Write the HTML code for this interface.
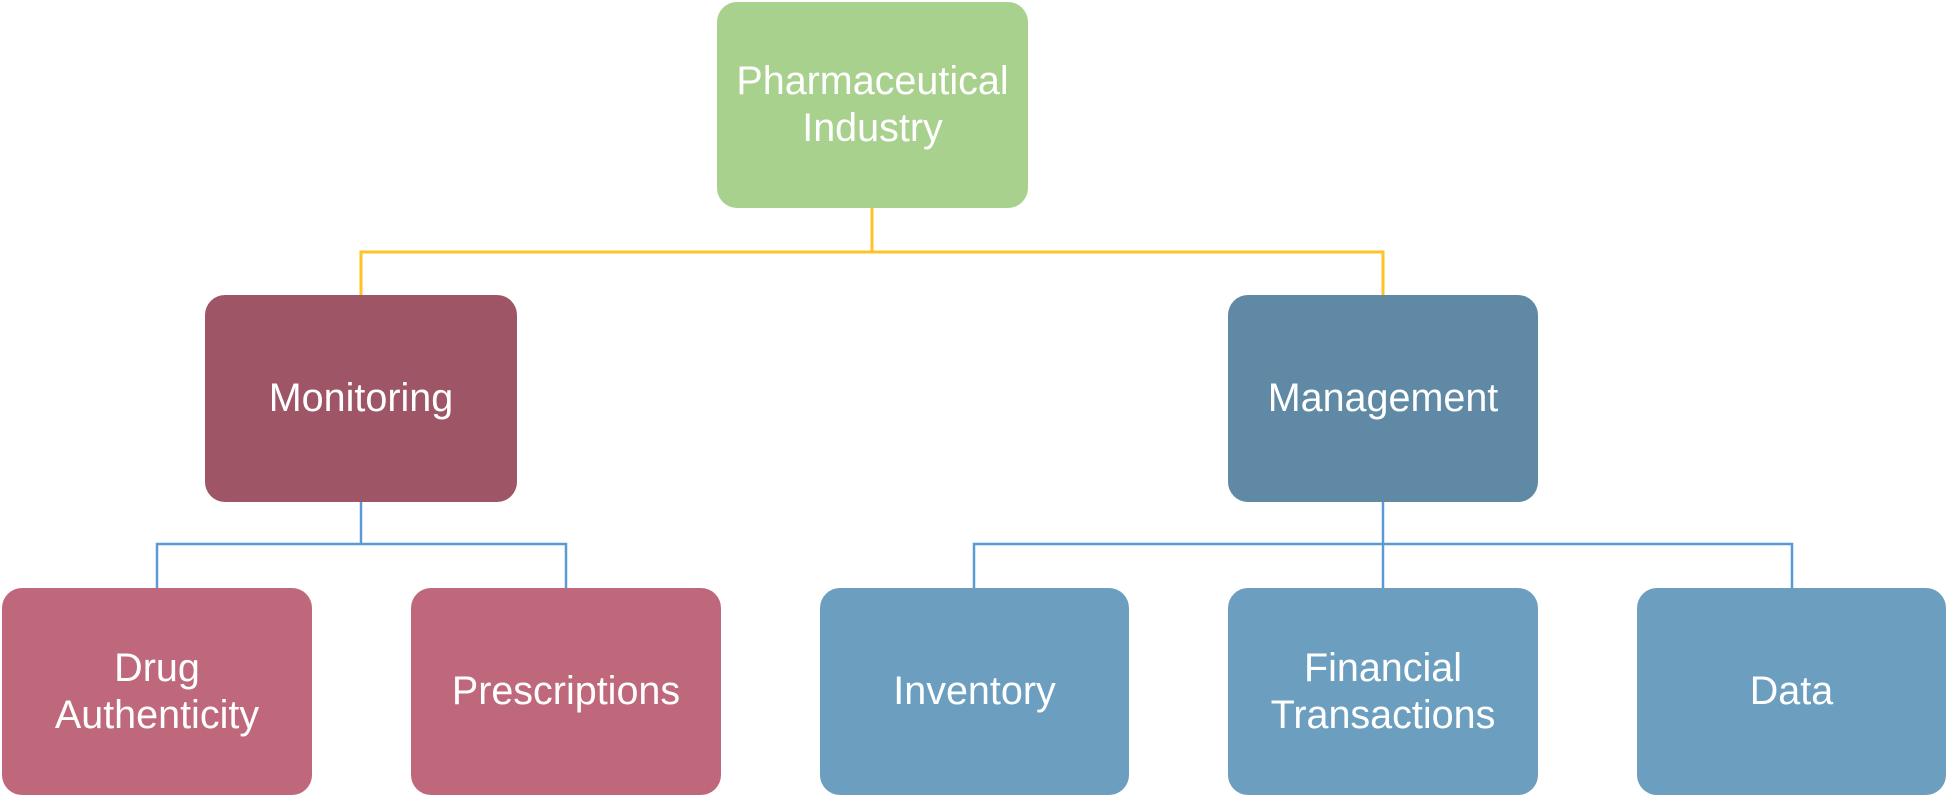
<!DOCTYPE html>
<html>
<head>
<meta charset="utf-8">
<style>
  html, body { margin:0; padding:0; background:#ffffff; }
  body { width:1950px; height:799px; position:relative; overflow:hidden;
         font-family:"Liberation Sans", Arial, sans-serif; }
  .box { position:absolute; border-radius:20px; display:flex; align-items:center;
         justify-content:center; text-align:center; color:#ffffff;
         font-size:39.5px; line-height:47px; }
  .g  { background:#a9d18e; }
  .m  { background:#9e5566; }
  .p  { background:#c0687b; }
  .mg { background:#5f89a4; }
  .b  { background:#6c9fbf; }
  svg { position:absolute; left:0; top:0; }
</style>
</head>
<body>
<svg width="1950" height="799" viewBox="0 0 1950 799">
  <g stroke="#ffc32a" stroke-width="3" fill="none">
    <line x1="872" y1="207" x2="872" y2="252"/>
    <polyline points="361,296 361,252 1383,252 1383,296"/>
  </g>
  <g stroke="#5b9bd5" stroke-width="2.5" fill="none">
    <line x1="361" y1="501" x2="361" y2="544"/>
    <polyline points="157,589 157,544 566,544 566,589"/>
    <line x1="1383" y1="501" x2="1383" y2="589"/>
    <polyline points="974,589 974,544 1792,544 1792,589"/>
  </g>
</svg>

<div class="box g"  style="left:717px; top:2px;   width:311px; height:206px;">Pharmaceutical<br>Industry</div>

<div class="box m"  style="left:205px; top:295px; width:312px; height:207px;">Monitoring</div>
<div class="box mg" style="left:1228px; top:295px; width:310px; height:207px;">Management</div>

<div class="box p"  style="left:2px;   top:588px; width:310px; height:207px;">Drug<br>Authenticity</div>
<div class="box p"  style="left:411px; top:588px; width:310px; height:207px;">Prescriptions</div>
<div class="box b"  style="left:820px; top:588px; width:309px; height:207px;">Inventory</div>
<div class="box b"  style="left:1228px; top:588px; width:310px; height:207px;">Financial<br>Transactions</div>
<div class="box b"  style="left:1637px; top:588px; width:309px; height:207px;">Data</div>
</body>
</html>
